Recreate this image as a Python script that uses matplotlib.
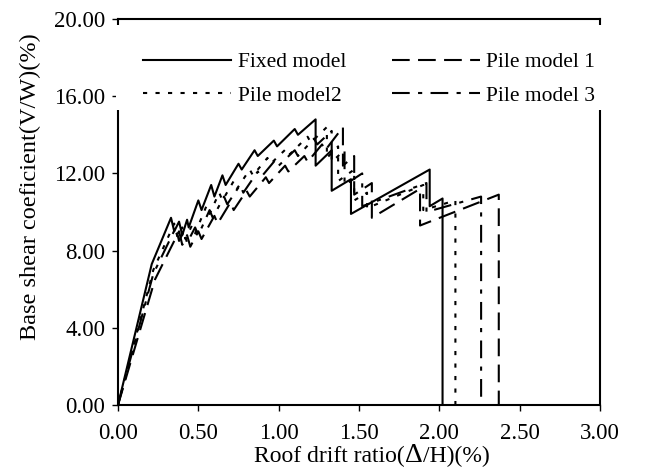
import matplotlib
matplotlib.use('Agg')
import matplotlib.pyplot as plt
from matplotlib.patches import Rectangle
from matplotlib.offsetbox import TextArea, HPacker, AnchoredOffsetbox

plt.rcParams['font.family'] = ['Liberation Serif', 'DejaVu Serif']
plt.rcParams['font.size'] = 15

# pushover curves: roof drift ratio (%) vs base shear coefficient (%)
fixed_x = [0, 0.21, 0.33, 0.35, 0.38, 0.40, 0.43, 0.44, 0.50, 0.52, 0.58, 0.60, 0.65, 0.67,
           0.75, 0.77, 0.85, 0.87, 0.97, 0.99, 1.10, 1.12, 1.23, 1.23, 1.33, 1.33, 1.45, 1.45,
           1.94, 1.94, 2.02, 2.02]
fixed_y = [0, 7.3, 9.7, 9.0, 9.5, 8.8, 9.6, 9.2, 10.6, 10.1, 11.4, 10.8, 11.9, 11.4,
           12.5, 12.2, 13.2, 12.9, 13.7, 13.4, 14.3, 14.0, 14.8, 12.4, 13.2, 11.1, 11.7, 9.9,
           12.2, 10.3, 10.7, 0]

pile1_x = [0, 0.23, 0.38, 0.40, 0.43, 0.45, 0.50, 0.52, 0.60, 0.62, 0.70, 0.72, 0.80, 0.82,
           0.92, 0.94, 1.04, 1.06, 1.16, 1.18, 1.27, 1.29, 1.40, 1.40, 1.47, 1.47, 1.58, 1.58,
           1.88, 1.88, 2.37, 2.37]
pile1_y = [0, 6.5, 9.0, 8.3, 8.8, 8.2, 9.0, 8.6, 9.8, 9.4, 10.5, 10.1, 11.1, 10.8,
           11.8, 11.5, 12.4, 12.1, 12.9, 12.6, 13.5, 13.2, 14.4, 12.4, 12.9, 10.9, 11.5, 9.7,
           11.2, 9.3, 10.9, 0]

pile2_x = [0, 0.22, 0.35, 0.37, 0.40, 0.42, 0.46, 0.48, 0.55, 0.57, 0.63, 0.65, 0.72, 0.74,
           0.82, 0.84, 0.93, 0.95, 1.05, 1.07, 1.18, 1.20, 1.30, 1.30, 1.37, 1.37, 1.47, 1.47,
           1.55, 1.55, 1.90, 1.90, 2.10, 2.10]
pile2_y = [0, 7.0, 9.4, 8.7, 9.2, 8.6, 9.3, 8.9, 10.3, 9.9, 11.0, 10.6, 11.6, 11.2,
           12.2, 11.9, 12.8, 12.5, 13.3, 13.0, 13.9, 13.6, 14.4, 12.8, 13.4, 11.6, 12.2, 10.6,
           11.0, 10.2, 11.4, 10.1, 10.6, 0]

pile3_x = [0, 0.22, 0.36, 0.38, 0.41, 0.43, 0.48, 0.50, 0.57, 0.59, 0.66, 0.68, 0.76, 0.78,
           0.87, 0.89, 0.98, 1.00, 1.10, 1.12, 1.22, 1.24, 1.33, 1.33, 1.41, 1.41, 1.52, 1.52,
           1.92, 1.92, 2.26, 2.26]
pile3_y = [0, 6.8, 9.2, 8.5, 9.0, 8.4, 9.2, 8.8, 10.1, 9.7, 10.8, 10.4, 11.4, 11.0,
           12.1, 11.8, 12.7, 12.4, 13.2, 12.9, 13.8, 13.5, 14.2, 12.6, 13.2, 11.4, 12.0, 10.3,
           11.5, 10.0, 10.8, 0]

x_ticks = [0, 0.5, 1.0, 1.5, 2.0, 2.5, 3.0]
y_ticks = [0, 4, 8, 12, 16, 20]

fig = plt.figure(figsize=(6.46, 4.69), dpi=100)
ax = fig.add_axes([118 / 646, 1 - 405 / 469, 482 / 646, 386 / 469])

lw = 1.5
l_fix, = ax.plot(fixed_x, fixed_y, color='black', lw=lw, ls='-', label='Fixed model')
l_p1, = ax.plot(pile1_x, pile1_y, color='black', lw=lw, ls=(0, (8.5, 4)), label='Pile model 1')
l_p2, = ax.plot(pile2_x, pile2_y, color='black', lw=lw, ls=(0, (2, 4)), label='Pile model2')
l_p3, = ax.plot(pile3_x, pile3_y, color='black', lw=lw, ls=(0, (8.5, 4, 2, 4)), label='Pile model 3')

ax.set_xlim(0, 3)
ax.set_ylim(0, 20)
ax.set_xticks(x_ticks)
ax.set_xticklabels([f'{v:.2f}' for v in x_ticks])
ax.set_yticks(y_ticks)
ax.set_yticklabels([f'{v:.2f}' for v in y_ticks])
ax.tick_params(direction='out', length=4, width=1, labelsize=16.5)
ax.tick_params(axis='x', pad=9)
ax.tick_params(axis='y', pad=5)
for sp in ax.spines.values():
    sp.set_linewidth(1.5)

ax.set_ylabel('Base shear coeficient(V/W)(%)', fontsize=17.5)
ax.yaxis.set_label_coords(-0.16, 0.565)

# x label with an enlarged delta
parts = [TextArea('Roof drift ratio(', textprops=dict(size=17)),
         TextArea('\u0394', textprops=dict(size=20)),
         TextArea('/H)(%)', textprops=dict(size=17))]
box = HPacker(children=parts, align='baseline', pad=0, sep=0)
anchored = AnchoredOffsetbox(loc='lower center', child=box, frameon=False,
                             bbox_to_anchor=(0.527, -0.162), bbox_transform=ax.transAxes,
                             borderpad=0, pad=0)
ax.add_artist(anchored)

# white panel behind the legend, covering the frame
ax.add_patch(Rectangle((-0.004, 0.764), 1.012, 0.22, transform=ax.transAxes,
                       facecolor='white', edgecolor='none', clip_on=False, zorder=5))
leg = ax.legend([l_fix, l_p2, l_p1, l_p3],
                ['Fixed model', 'Pile model2', 'Pile model 1', 'Pile model 3'],
                ncol=2, loc='upper left', bbox_to_anchor=(0.03, 0.942), frameon=False,
                handlelength=4.1, handletextpad=0.3, columnspacing=2.1,
                labelspacing=0.62, fontsize=15.5, borderpad=0)
leg.set_zorder(6)

fig.savefig('out.png', dpi=100)
